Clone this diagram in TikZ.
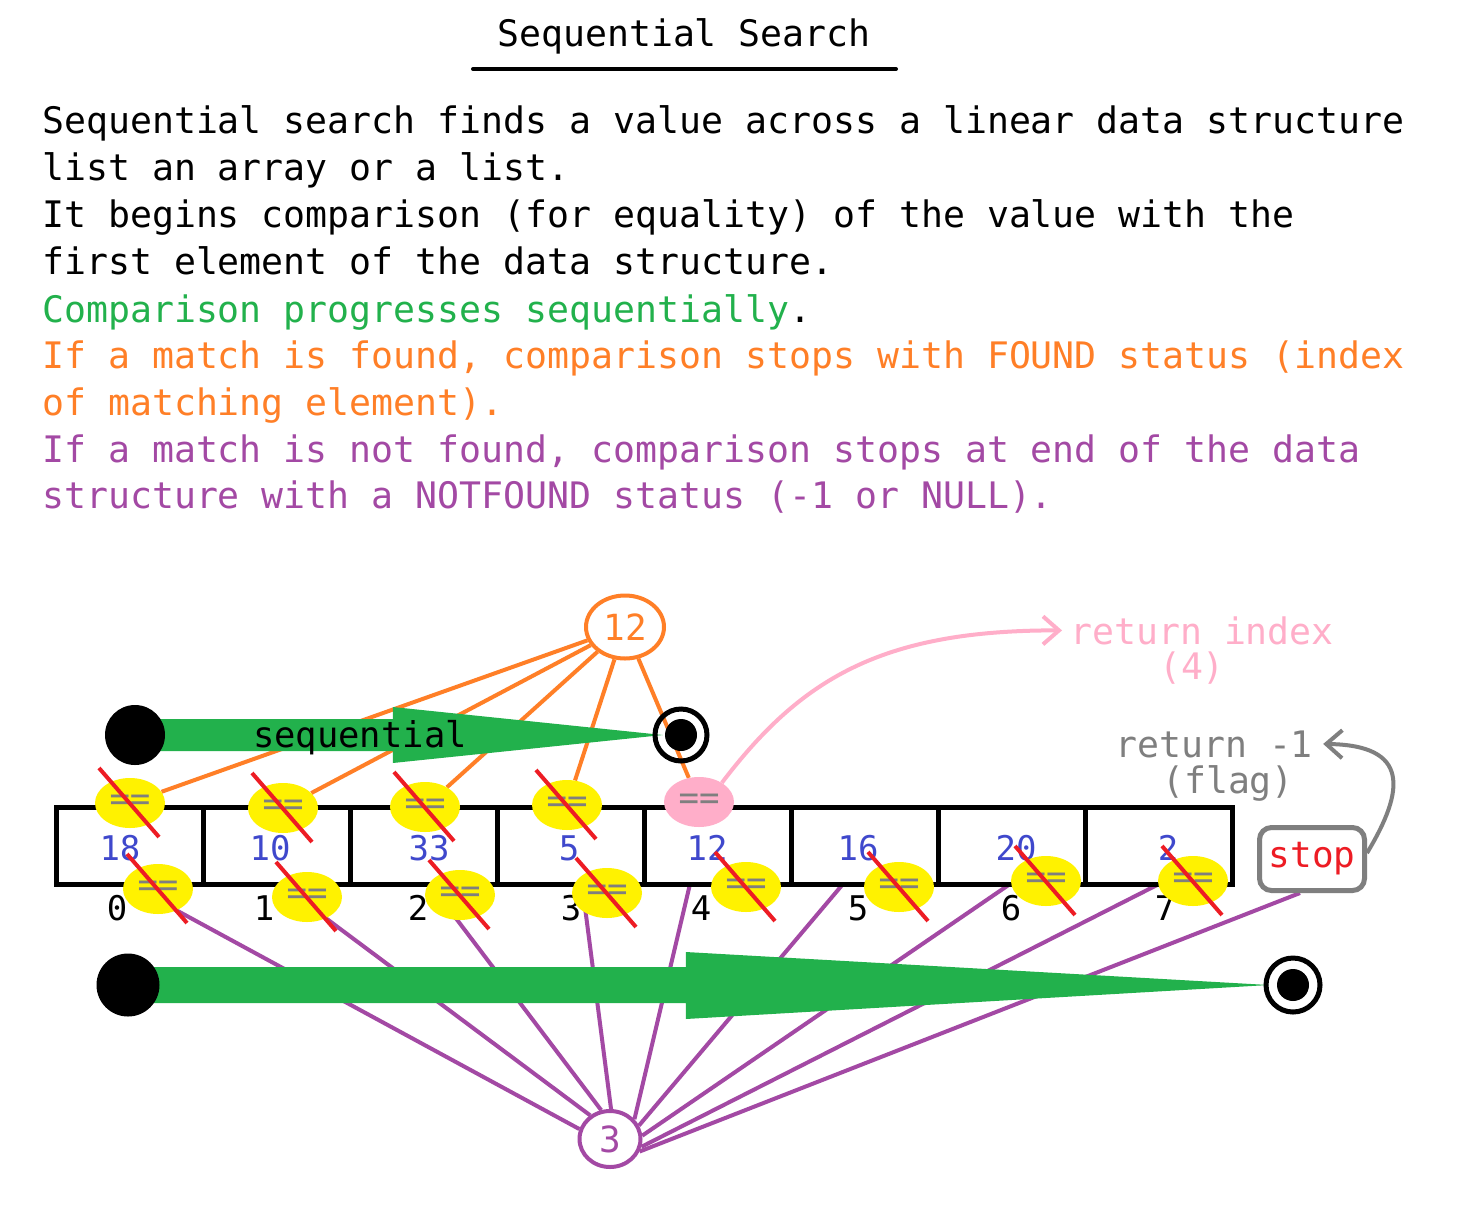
\documentclass[tikz,border=0pt]{standalone}
\usepackage{fontspec}
\setmainfont{DejaVu Sans Mono}
\usetikzlibrary{shapes.geometric,arrows.meta,calc}
\pgfdeclarelayer{bgl}
\pgfdeclarelayer{lines}
\pgfdeclarelayer{arrowsl}
\pgfsetlayers{bgl,lines,arrowsl,main}
\definecolor{pgreen}{HTML}{22B14C}
\definecolor{porange}{HTML}{FF7F27}
\definecolor{ppurple}{HTML}{A349A4}
\definecolor{pblue}{HTML}{3F48CC}
\definecolor{ppink}{HTML}{FFAEC9}
\definecolor{pgrey}{HTML}{7F7F7F}
\definecolor{pred}{HTML}{ED1C24}
\definecolor{pyellow}{HTML}{FFF200}
\newcommand\fbig{\fontsize{36.5pt}{44pt}\selectfont}
\newcommand\fnum{\fontsize{34pt}{40pt}\selectfont}
\newcommand\flab{\fontsize{36pt}{42pt}\selectfont}
\newcommand\fseq{\fontsize{35.5pt}{42pt}\selectfont}
\begin{document}
\begin{tikzpicture}[x=1pt,y=-1pt,
  bodytext/.style={anchor=base west, inner sep=0pt, font=\fbig},
  eqy/.style={ellipse, fill=pyellow, minimum width=70pt, minimum height=50pt, inner sep=0pt, text=pgrey, font=\fnum},
  eqp/.style={eqy, fill=ppink},
  slashline/.style={draw=pred, line width=4pt},
  cellbox/.style={draw=black, line width=5pt, minimum width=147pt, minimum height=77pt, inner sep=0pt},
  valtext/.style={text=pblue, font=\fnum, inner sep=0pt},
  idxtext/.style={text=black, font=\fnum, inner sep=0pt},
  oline/.style={draw=porange, line width=4pt},
  pline/.style={draw=ppurple, line width=4pt},
  blackdot/.style={circle, fill=black, inner sep=0pt},
  ringc/.style={circle, draw=black, line width=5pt, inner sep=0pt},
]
\begin{pgfonlayer}{bgl}
\fill[white] (0,0) rectangle (1472,1208);
\end{pgfonlayer}
\useasboundingbox (0,0) rectangle (1472,1208);

% title
\node[anchor=base, inner sep=0pt, font=\fbig] (title) at (684,46) {Sequential Search};
\draw[line width=4pt, line cap=round] (473,69) -- (896,69);

% body text
\node[bodytext] (l1) at (42,133) {Sequential search finds a value across a linear data structure};
\node[bodytext] (l2) at (42,180) {list an array or a list.};
\node[bodytext] (l3) at (42,227) {It begins comparison (for equality) of the value with the};
\node[bodytext] (l4) at (42,274) {first element of the data structure.};
\node[bodytext] (l5) at (42,322) {\textcolor{pgreen}{Comparison progresses sequentially}.};
\node[bodytext, text=porange] (l6) at (42,368) {If a match is found, comparison stops with FOUND status (index};
\node[bodytext, text=porange] (l7) at (42,415) {of matching element).};
\node[bodytext, text=ppurple] (l8) at (42,462) {If a match is not found, comparison stops at end of the data};
\node[bodytext, text=ppurple] (l9) at (42,508) {structure with a NOTFOUND status (-1 or NULL).};

% array cells
\foreach \i in {0,...,7}
  \node[cellbox] (cell\i) at ({129.5+147*\i},845.5) {};
\foreach \i/\x/\v in {0/120/18,1/270/10,2/429/33,3/569/5,4/707/12,5/858/16,6/1016/20,7/1168/2}
  \node[valtext] (v\i) at (\x,848) {\v};
\foreach \i/\x in {0/117,1/264,2/418,3/571,4/701,5/858,6/1011,7/1165}
  \node[idxtext] (i\i) at (\x,908) {\i};

% free ends of the purple connectors
\coordinate (q0) at (128,884);
\coordinate (q1) at (280,884);
\coordinate (q2) at (430,884);
\coordinate (q3) at (582,884);
\coordinate (q4) at (690,884);
\coordinate (q5) at (843,884);
\coordinate (q6) at (1010,884);
\coordinate (q7) at (1159,884);

% comparison ellipses
\node[eqy] (t0) at (130,803) {==};
\node[eqy] (t1) at (283,808) {==};
\node[eqy] (t2) at (425,807) {==};
\node[eqy] (t3) at (567,805) {==};
\node[eqp] (peq) at (699,802) {==};
\node[eqy] (b0) at (158,889) {==};
\node[eqy] (b1) at (307,897) {==};
\node[eqy] (b2) at (460,895) {==};
\node[eqy] (b3) at (607,893) {==};
\node[eqy] (b4) at (746,887) {==};
\node[eqy] (b5) at (899,887) {==};
\node[eqy] (b6) at (1046,881) {==};
\node[eqy] (b7) at (1193,881) {==};
\foreach \n in {t0,t1,t2,t3,b0,b1,b2,b3,b4,b5,b6,b7}
  \draw[slashline] ([shift={(-31,-35)}]\n.center) -- ([shift={(29,34)}]\n.center);

% search key circles
\node[ellipse, draw=porange, line width=4pt, fill=white, minimum width=78pt, minimum height=63pt, inner sep=0pt, text=porange, font=\flab] (twelve) at (625,627) {12};
\node[ellipse, draw=ppurple, line width=4pt, fill=white, minimum width=61pt, minimum height=56pt, inner sep=0pt, text=ppurple, font=\flab] (three) at (610,1139) {3};

% start / end markers
\node[blackdot, minimum size=60pt] (s1) at (135,735) {};
\node[ringc, minimum size=52pt] (r1) at (681,735) {};
\node[blackdot, minimum size=32pt] (r1i) at (681,735) {};
\node[blackdot, minimum size=63pt] (s2) at (128,985) {};
\node[ringc, minimum size=54pt] (r2) at (1293,985) {};
\node[blackdot, minimum size=32pt] (r2i) at (1293,985) {};

% stop box and return labels
\node[draw=pgrey, line width=5pt, rounded corners=12pt, minimum width=105pt, minimum height=63pt, inner sep=0pt, text=pred, font=\flab] (stop) at (1312,859) {stop};
\coordinate (qs) at (1300,893);
\node[anchor=base west, inner sep=8pt, text=ppink, font=\fbig] (retidx) at (1062,644) {return index};
\node[anchor=base, inner sep=0pt, text=ppink, font=\fbig] (ret4) at (1192,679) {(4)};
\node[anchor=base west, inner sep=10pt, text=pgrey, font=\fbig] (retm1) at (1105,757) {return -1};
\node[anchor=base, inner sep=0pt, text=pgrey, font=\fbig] (flag) at (1228,793) {(flag)};

% green sequential arrows
\begin{pgfonlayer}{arrowsl}
\fill[pgreen] ([yshift=16pt]s1.center) -- ([xshift=-272pt,yshift=16pt]r1i.west)
  -- ([xshift=-272pt,yshift=28pt]r1i.west) -- ([xshift=-2pt]r1i.west)
  -- ([xshift=-272pt,yshift=-28pt]r1i.west) -- ([xshift=-272pt,yshift=-16pt]r1i.west)
  -- ([yshift=-16pt]s1.center) -- cycle;
\fill[pgreen] ([yshift=18pt]s2.center) -- ([xshift=-591pt,yshift=18pt]r2i.west)
  -- ([xshift=-591pt,yshift=33pt]r2i.west) -- ([xshift=-8pt]r2i.west)
  -- ([xshift=-591pt,yshift=-34pt]r2i.west) -- ([xshift=-591pt,yshift=-18pt]r2i.west)
  -- ([yshift=-18pt]s2.center) -- cycle;
\end{pgfonlayer}
\node[anchor=base, inner sep=0pt, font=\fseq] (seq) at (360,747) {sequential};

% connectors
\begin{pgfonlayer}{lines}
\foreach \n in {t0,t1,t2,t3,peq}
  \draw[oline] (twelve) -- (\n);
\foreach \q/\a in {q0/162,q1/130,q2/107,q3/88,q4/39,q5/25,q6/6,q7/-14,qs/-23}
  \draw[pline] (\q) -- (three.\a);
\draw[ppink, line width=4pt, -{Straight Barb[length=16pt,width=28pt]}]
  (peq.40) .. controls (800,680) and (880,630) .. (retidx.west);
\draw[pgrey, line width=4pt, -{Straight Barb[length=16pt,width=28pt]}]
  ([yshift=6pt]stop.east) .. controls (1405,790) and (1410,745) .. (retm1.east);
\end{pgfonlayer}
\end{tikzpicture}
\end{document}
